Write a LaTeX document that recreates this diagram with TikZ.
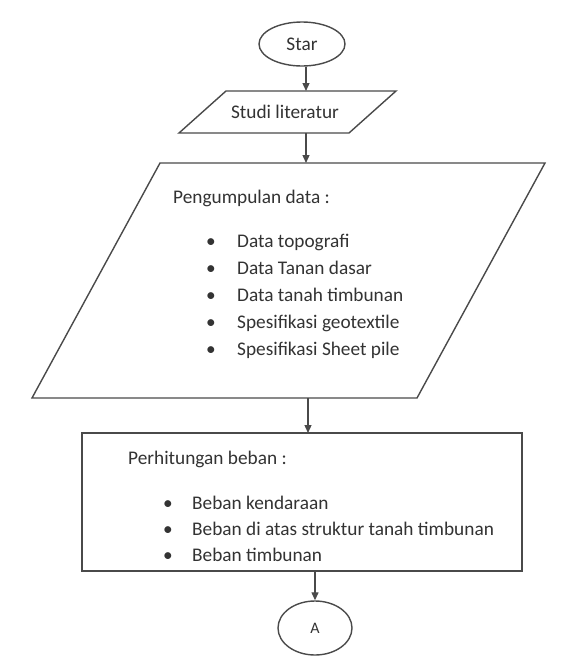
\documentclass[tikz,border=0pt]{standalone}
\usepackage{fontspec}
\setmainfont{Carlito}
\usetikzlibrary{shapes.geometric,arrows.meta}
\definecolor{linegray}{HTML}{4A4A4A}
\definecolor{textgray}{HTML}{333333}
\begin{document}
\begin{tikzpicture}[x=1pt,y=-1pt,
  shapeline/.style={draw=linegray, line width=1.4pt, line join=miter},
  arr/.style={draw=linegray, line width=1.3pt, -{Triangle[length=8pt,width=7pt]}},
  txt/.style={text=textgray, font=\fontsize{19.3}{23}\selectfont, inner sep=0pt, anchor=base west},
  term/.style={ellipse, shapeline, inner sep=0pt, text=textgray, font=\fontsize{19.3}{23}\selectfont},
  frame/.style={inner sep=0pt, outer sep=0pt, draw=none}]
\useasboundingbox[fill=white] (0,0) rectangle (567,659);

% terminators
\node[term, minimum width=86pt, minimum height=44pt] (star) at (302,44) {Star};
\node[term, minimum width=74pt, minimum height=54pt, font=\fontsize{16}{19}\selectfont] (A) at (315,628) {A};

% Studi literatur parallelogram
\node[frame, minimum width=217pt, minimum height=42pt] (studi) at (287.5,112) {};
\draw[shapeline] ([xshift=47pt]studi.north west) -- (studi.north east)
  -- ([xshift=-47pt]studi.south east) -- (studi.south west) -- cycle;
\node[txt, anchor=base] (studitxt) at (285,118) {Studi literatur};

% Pengumpulan data parallelogram
\node[frame, minimum width=513pt, minimum height=235pt] (data) at (288.5,280.5) {};
\draw[shapeline] ([xshift=128pt]data.north west) -- (data.north east)
  -- ([xshift=-128pt]data.south east) -- (data.south west) -- cycle;
\node[txt] (d0) at (173,203) {Pengumpulan data :};
\node[txt] (d1) at (206,247) {\makebox[31pt][l]{•}Data topografi};
\node[txt] (d2) at (206,274) {\makebox[31pt][l]{•}Data Tanan dasar};
\node[txt] (d3) at (206,301) {\makebox[31pt][l]{•}Data tanah timbunan};
\node[txt] (d4) at (206,328) {\makebox[31pt][l]{•}Spesifikasi geotextile};
\node[txt] (d5) at (206,355) {\makebox[31pt][l]{•}Spesifikasi Sheet pile};

% Perhitungan beban rectangle
\node[frame, shapeline, minimum width=440pt, minimum height=138pt] (beban) at (302,502) {};
\node[txt] (b0) at (128,464) {Perhitungan beban :};
\node[txt] (b1) at (163,509) {\makebox[29pt][l]{•}Beban kendaraan};
\node[txt] (b2) at (163,535) {\makebox[29pt][l]{•}Beban di atas struktur tanah timbunan};
\node[txt] (b3) at (163,561) {\makebox[29pt][l]{•}Beban timbunan};

% connectors
\draw[arr] ([xshift=4pt]star.south) -- ([xshift=4pt]star.south |- studi.north);
\draw[arr] ([xshift=18.5pt]studi.south) -- ([xshift=18.5pt]studi.south |- data.north);
\draw[arr] ([xshift=19.5pt]data.south) -- ([xshift=19.5pt]data.south |- beban.north);
\draw[arr] (beban.south -| A.north) -- (A.north);
\end{tikzpicture}
\end{document}
